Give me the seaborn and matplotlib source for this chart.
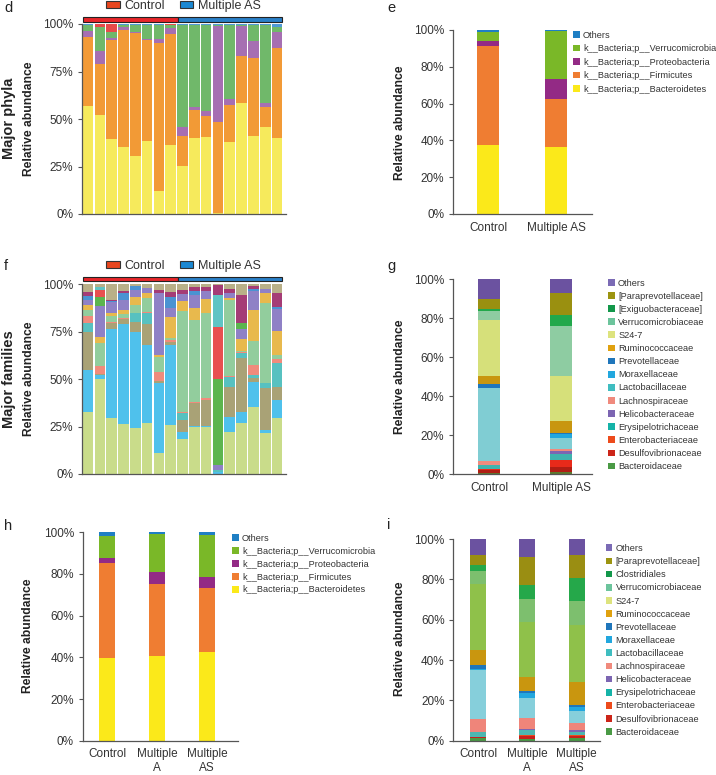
import numpy as np
import pandas as pd
import seaborn as sns
import matplotlib.pyplot as plt
from matplotlib.patches import Patch, Rectangle
from matplotlib.ticker import FuncFormatter

sns.set_style("ticks")
plt.rcParams['font.family'] = ['Liberation Sans', 'DejaVu Sans']
plt.rcParams['axes.edgecolor'] = '#555555'
plt.rcParams['xtick.color'] = '#555555'
plt.rcParams['ytick.color'] = '#555555'
plt.rcParams['text.color'] = '#333333'

# ---------------- data ----------------
# panel d: per-sample phyla (%), 8 control + 9 multiple AS
samples = ['C1', 'C2', 'C3', 'C4', 'C5', 'C6', 'C7', 'C8',
           'M1', 'M2', 'M3', 'M4', 'M5', 'M6', 'M7', 'M8', 'M9']
n_control = 8
d_bacteroidetes = [56.6, 52.2, 39.4, 35.5, 30.6, 38.5, 12.1, 36.4, 25.5, 40.2, 40.4, 0.7, 38.0, 58.5, 40.8, 45.7, 40.1]
d_firmicutes = [36.7, 26.7, 52.0, 61.5, 64.7, 53.2, 77.9, 58.5, 15.8, 14.3, 11.3, 47.8, 19.5, 24.5, 41.4, 10.4, 47.2]
d_proteobacteria = [3.2, 6.9, 1.0, 1.4, 0.7, 0.6, 2.3, 3.0, 4.7, 1.6, 2.6, 50.6, 3.1, 15.8, 9.0, 2.1, 8.7]
d_verrucomicrobia = [3.1, 12.4, 3.4, 1.1, 3.6, 7.3, 7.3, 1.6, 53.6, 43.5, 45.3, 0.5, 39.0, 0.8, 8.4, 41.4, 2.4]
d_tenericutes = [0.0, 1.8, 4.2, 0.0, 0.0, 0.0, 0.0, 0.3, 0.0, 0.0, 0.0, 0.0, 0.0, 0.0, 0.0, 0.0, 0.0]
d_others = [0.4, 0.0, 0.0, 0.5, 0.4, 0.4, 0.4, 0.2, 0.4, 0.4, 0.4, 0.4, 0.4, 0.4, 0.4, 0.4, 1.6]
d_colors = ['#f6ea5c', '#f29a36', '#a66fb2', '#70b86a', '#e84a4a', '#4f9ad6']

# panel f: per-sample families (%), bottom to top
f_s24_7 = [32.5, 50.1, 29.5, 26.4, 24.4, 27.1, 10.9, 25.8, 18.5, 25.0, 25.0, 0.0, 22.3, 27.1, 35.1, 21.8, 29.3]
f_lactobacillaceae = [22.5, 2.1, 47.0, 52.7, 50.6, 41.1, 36.9, 42.2, 3.8, 0.3, 0.3, 1.0, 7.9, 5.8, 13.5, 1.4, 9.7]
f_bacteroidales = [20.0, 0.5, 3.0, 2.4, 5.3, 11.1, 1.2, 1.8, 6.2, 12.0, 13.7, 0.0, 15.8, 28.1, 2.0, 22.0, 6.7]
f_erysipelotrichaceae = [4.8, 0.0, 0.0, 0.0, 4.4, 5.4, 0.0, 0.0, 3.5, 0.0, 0.0, 1.0, 5.3, 2.6, 1.8, 2.6, 12.6]
f_lachnospiraceae = [3.7, 4.3, 0.5, 0.5, 0.4, 0.5, 5.0, 0.8, 0.9, 0.8, 0.9, 0.0, 0.5, 0.9, 4.8, 0.4, 2.1]
f_verrucomicrobiaceae = [3.0, 11.9, 3.5, 2.5, 4.0, 7.4, 7.5, 1.1, 53.0, 43.1, 45.1, 0.0, 39.9, 0.3, 12.8, 41.8, 2.3]
f_ruminococcaceae = [2.6, 3.5, 1.2, 2.1, 4.4, 3.0, 1.3, 11.3, 5.5, 6.1, 7.0, 0.0, 0.9, 6.2, 16.2, 5.3, 12.7]
f_helicobacteraceae = [2.6, 16.4, 6.0, 4.9, 3.5, 2.3, 32.6, 4.3, 3.3, 7.1, 4.5, 2.5, 3.0, 5.2, 10.5, 2.1, 11.4]
f_prevotellaceae = [2.3, 0.0, 0.5, 3.9, 2.1, 0.0, 0.0, 6.2, 0.0, 2.3, 0.0, 0.0, 0.0, 0.0, 1.0, 0.0, 1.4]
f_bacillaceae = [0.0, 4.5, 0.0, 0.0, 0.0, 0.0, 0.0, 0.0, 0.0, 0.0, 0.0, 45.5, 0.0, 3.5, 0.0, 0.0, 0.0]
f_enterobacteriaceae = [0.0, 3.8, 0.0, 0.0, 0.0, 0.0, 0.0, 0.0, 0.0, 0.0, 0.0, 27.5, 0.0, 0.0, 0.0, 0.0, 0.0]
f_streptococcaceae = [0.0, 1.7, 0.0, 0.0, 0.0, 0.0, 0.0, 0.0, 0.0, 0.0, 0.0, 17.0, 0.0, 0.0, 0.0, 0.0, 0.0]
f_desulfovibrionaceae = [2.1, 0.0, 0.5, 0.9, 0.0, 0.0, 1.4, 2.6, 2.3, 1.8, 2.0, 5.0, 1.8, 14.9, 1.5, 0.0, 7.1]
f_others = [3.9, 1.2, 8.3, 3.7, 0.9, 2.1, 3.2, 3.9, 3.0, 1.5, 1.5, 0.5, 2.6, 5.7, 0.8, 2.6, 4.7]
f_colors = ['#c9dc8a', '#4fc1ec', '#a9a276', '#57c1c0', '#f08b7c', '#92cd9d', '#e8b94d',
            '#8f81c6', '#4a93d2', '#5cb54e', '#e85050', '#5fc4c4', '#a53c76', '#b9b088']

# panels e / h: group means of phyla (%)
phyla_names = ['k__Bacteria;p__Bacteroidetes', 'k__Bacteria;p__Firmicutes',
               'k__Bacteria;p__Proteobacteria', 'k__Bacteria;p__Verrucomicrobia', 'Others']
phyla_colors = ['#fbe91a', '#ef7d32', '#932a85', '#7ab828', '#1f7fc4']
e_groups = ['Control', 'Multiple AS']
e_values = {'Control': [37.5, 54.0, 2.5, 4.7, 1.3],
            'Multiple AS': [36.6, 25.7, 10.9, 26.3, 0.5]}
h_groups = ['Control', 'Multiple\nA', 'Multiple\nAS']
h_values = {'Control': [39.5, 45.9, 2.4, 10.6, 1.6],
            'Multiple\nA': [40.8, 34.4, 5.8, 18.2, 0.8],
            'Multiple\nAS': [42.7, 30.7, 5.3, 20.0, 1.3]}

# panels g / i: group means of families (%), bottom to top
g_names = ['Bacteroidaceae', 'Desulfovibrionaceae', 'Enterobacteriaceae', 'Erysipelotrichaceae',
           'Helicobacteraceae', 'Lachnospiraceae', 'Lactobacillaceae', 'Moraxellaceae',
           'Prevotellaceae', 'Ruminococcaceae', 'S24-7', 'Verrucomicrobiaceae',
           '[Exiguobacteraceae]', '[Paraprevotellaceae]', 'Others']
g_colors = ['#5e7a2e', '#b01e14', '#e82a1a', '#3fb3ae', '#7c65b2', '#f08a7d', '#80cdd3',
            '#22a7de', '#1f76bb', '#c8960f', '#d6e07a', '#8ecca2', '#22a84b', '#9a9010', '#6b52a0']
g_legend_colors = ['#4a9a45', '#cc2519', '#ed4b1c', '#15b3a8', '#7c65b2', '#f08a7d', '#3fbdc0',
                   '#22a7de', '#1f76bb', '#e0a10f', '#dde37e', '#6cc49c', '#12974a', '#9c9410', '#7b6bb5']
g_groups = ['Control', 'Multiple AS']
g_values = {'Control': [0.9, 1.3, 0.7, 1.9, 0.2, 2.0, 37.0, 0.2, 2.0, 4.3, 28.5, 4.8, 0.8, 5.2, 10.2],
            'Multiple AS': [1.0, 2.9, 3.4, 3.1, 1.5, 1.2, 5.3, 2.1, 0.8, 6.2, 22.8, 25.6, 5.7, 11.4, 7.0]}
i_names = ['Bacteroidaceae', 'Desulfovibrionaceae', 'Enterobacteriaceae', 'Erysipelotrichaceae',
           'Helicobacteraceae', 'Lachnospiraceae', 'Lactobacillaceae', 'Moraxellaceae',
           'Prevotellaceae', 'Ruminococcaceae', 'S24-7', 'Verrucomicrobiaceae',
           'Clostridiales', '[Paraprevotellaceae]', 'Others']
i_colors = ['#4a9a45', '#c8201b', '#ed4b1c', '#4db7b0', '#7c65b2', '#ef857a', '#86cfdb',
            '#22a7de', '#1f76bb', '#c9960f', '#8fc14a', '#7dbf6e', '#25a84a', '#9a8e12', '#6b52a0']
i_groups = ['Control', 'Multiple\nA', 'Multiple\nAS']
i_values = {'Control': [1.5, 0.3, 0.2, 2.2, 0.2, 6.5, 24.3, 0.5, 2.0, 7.5, 32.7, 6.1, 3.0, 4.9, 8.1],
            'Multiple\nA': [0.8, 1.5, 0.5, 2.5, 0.5, 5.6, 9.6, 2.8, 0.8, 7.1, 27.3, 11.2, 7.0, 14.0, 8.8],
            'Multiple\nAS': [1.2, 1.0, 0.5, 1.8, 1.0, 3.5, 5.5, 2.3, 1.0, 11.5, 27.9, 12.2, 11.3, 11.4, 7.9]}

W, H = 716, 775
fig = plt.figure(figsize=(W / 100, H / 100), dpi=100)


def px_axes(l, r, t, b):
    return fig.add_axes([l / W, 1 - b / H, (r - l) / W, (b - t) / H])


def stacked(ax, labels, layers, colors, width):
    bottom = np.zeros(len(labels))
    for vals, col in zip(layers, colors):
        df = pd.DataFrame({'g': labels, 'v': vals})
        sns.barplot(data=df, x='g', y='v', color=col, saturation=1, width=width,
                    errorbar=None, bottom=bottom.copy(), linewidth=0, ax=ax)
        bottom += np.asarray(vals, dtype=float)


def style(ax, ticks, xlim, show_x):
    ax.set_ylim(0, 100)
    ax.set_xlim(*xlim)
    ax.set_yticks(ticks)
    ax.yaxis.set_major_formatter(FuncFormatter(lambda v, p: f'{v:.0f}%'))
    ax.tick_params(axis='y', length=3, width=0.8, pad=3.3, labelsize=8.5, labelcolor='#333333')
    ax.tick_params(axis='x', length=0, pad=5.5, labelsize=8.5, labelcolor='#333333')
    if not show_x:
        ax.set_xticklabels([])
    ax.set_xlabel('')
    ax.set_ylabel('')
    sns.despine(ax=ax)
    for s in ['left', 'bottom']:
        ax.spines[s].set_linewidth(0.9)


def group_bars(ax, y0, y1):
    kw = dict(transform=ax.get_xaxis_transform(), clip_on=False, lw=0.8, ec='#222222')
    ax.add_patch(Rectangle((-0.45, y0), n_control - 0.05 + 0.1, y1 - y0, fc='#e8262a', **kw))
    ax.add_patch(Rectangle((n_control - 0.4, y0), len(samples) - n_control - 0.15, y1 - y0, fc='#2a80c8', **kw))


def group_legend(ax, y):
    handles = [Patch(fc='#e8461e', ec='#333333', lw=0.8), Patch(fc='#1b88d2', ec='#333333', lw=0.8)]
    fig.legend(handles, ['Control', 'Multiple AS'], loc='center left', ncol=2, frameon=False,
               bbox_to_anchor=(106 / W, 1 - y / H), fontsize=9, handlelength=1.1, handleheight=0.5,
               handletextpad=0.35, columnspacing=1.2, borderpad=0, borderaxespad=0)


def side_legend(names, colors, x, y, spacing=0.45):
    handles = [Patch(fc=c, ec='none') for c in colors[::-1]]
    fig.legend(handles, names[::-1], loc='upper left', frameon=False,
               bbox_to_anchor=(x / W, 1 - y / H), fontsize=6.6, handlelength=0.75,
               handleheight=0.75, handletextpad=0.35, labelspacing=spacing, borderpad=0,
               borderaxespad=0)


def ylabel(x, y, text, size=8.7):
    fig.text(x / W, 1 - y / H, text, rotation=90, ha='center', va='center',
             fontsize=size, fontweight='bold', color='#222222')


# ---------------- d ----------------
ax_d = px_axes(82, 286, 24, 214)
stacked(ax_d, samples, [d_bacteroidetes, d_firmicutes, d_proteobacteria, d_verrucomicrobia,
                        d_tenericutes, d_others], d_colors, 0.9)
style(ax_d, [0, 25, 50, 75, 100], (-0.51, 16.76), False)
group_bars(ax_d, 1.0105, 1.035)
group_legend(ax_d, 6)
ylabel(9, 118, 'Major phyla', 10.5)
ylabel(29, 119, 'Relative abundance')

# ---------------- e ----------------
ax_e = px_axes(453, 592, 30, 214)
stacked(ax_e, e_groups, [[e_values[g][k] for g in e_groups] for k in range(5)], phyla_colors, 0.32)
style(ax_e, [0, 20, 40, 60, 80, 100], (-0.515, 1.53), True)
side_legend(phyla_names, phyla_colors, 573, 30.5, 0.5)
ylabel(400, 123, 'Relative abundance')

# ---------------- f ----------------
ax_f = px_axes(82, 286, 284.3, 474)
f_layers = [f_s24_7, f_lactobacillaceae, f_bacteroidales, f_erysipelotrichaceae, f_lachnospiraceae,
            f_verrucomicrobiaceae, f_ruminococcaceae, f_helicobacteraceae, f_prevotellaceae,
            f_bacillaceae, f_enterobacteriaceae, f_streptococcaceae, f_desulfovibrionaceae, f_others]
stacked(ax_f, samples, f_layers, f_colors, 0.9)
style(ax_f, [0, 25, 50, 75, 100], (-0.51, 16.76), False)
group_bars(ax_f, 1.019, 1.040)
group_legend(ax_f, 266)
ylabel(9, 379, 'Major families', 10.5)
ylabel(29, 379, 'Relative abundance')

# ---------------- g ----------------
ax_g = px_axes(453, 592, 279, 474.3)
stacked(ax_g, g_groups, [[g_values[g][k] for g in g_groups] for k in range(15)], g_colors, 0.30)
style(ax_g, [0, 20, 40, 60, 80, 100], (-0.50, 1.43), True)
side_legend(g_names, g_legend_colors, 608, 278.5)
ylabel(400, 377, 'Relative abundance')

# ---------------- h ----------------
ax_h = px_axes(82.7, 238, 532.3, 740.7)
stacked(ax_h, h_groups, [[h_values[g][k] for g in h_groups] for k in range(5)], phyla_colors, 0.32)
style(ax_h, [0, 20, 40, 60, 80, 100], (-0.49, 2.62), True)
side_legend(phyla_names, phyla_colors, 232, 534, 0.42)
ylabel(28, 636, 'Relative abundance')

# ---------------- i ----------------
ax_i = px_axes(453.3, 600, 539, 740.7)
stacked(ax_i, i_groups, [[i_values[g][k] for g in i_groups] for k in range(15)], i_colors, 0.32)
style(ax_i, [0, 20, 40, 60, 80, 100], (-0.50, 2.47), True)
side_legend(i_names, g_legend_colors[:12] + ['#12974a', '#9c9410', '#7b6bb5'], 605.5, 544)
ylabel(400, 639, 'Relative abundance')

# panel letters
for letter, (x, y) in {'d': (4, 8), 'e': (387, 8), 'f': (4, 266), 'g': (387, 266),
                       'h': (4, 526), 'i': (387, 525)}.items():
    fig.text(x / W, 1 - y / H, letter, fontsize=10.5, ha='left', va='center', color='#222222')

fig.savefig('out.png', dpi=100)
